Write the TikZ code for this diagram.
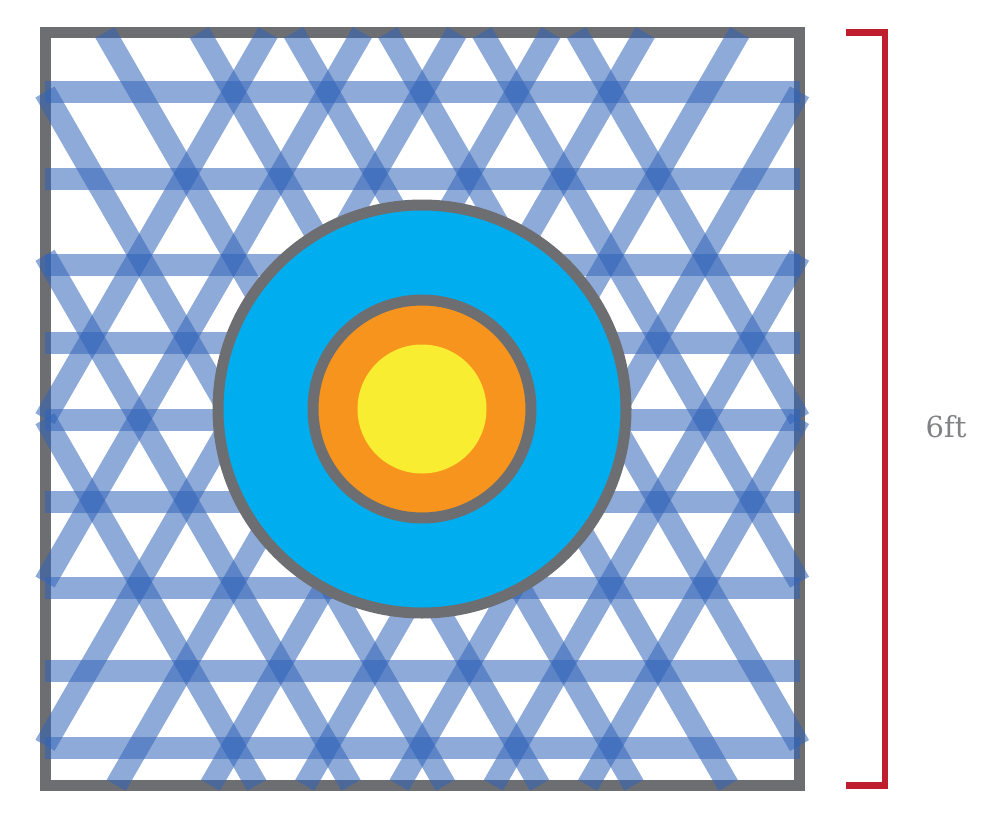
\documentclass[tikz,border=0pt]{standalone}
\usepackage{fontspec}
\usepackage{tikz}
\usetikzlibrary{positioning}

\newfontfamily\cotefont{DejaVu Serif}

\definecolor{grisbord}{RGB}{109,110,113}
\definecolor{bleubande}{RGB}{50,100,185}
\definecolor{cyanext}{RGB}{0,174,239}
\definecolor{orangemil}{RGB}{247,148,29}
\definecolor{jaunecoeur}{RGB}{249,237,50}
\definecolor{rougecote}{RGB}{190,30,45}
\definecolor{gristexte}{RGB}{128,130,133}

\begin{document}
\begin{tikzpicture}[
    x=1pt,
    y=-1pt,
    cadre/.style={
        draw=grisbord,
        line width=11pt
    },
    bande/.style={
        draw=bleubande,
        draw opacity=0.55,
        line width=22pt
    },
    anneau/.style={
        draw=grisbord,
        line width=11pt
    },
    cote/.style={
        draw=rougecote,
        line width=6.5pt
    },
    mesure/.style={
        text=gristexte,
        inner sep=0pt,
        font=\cotefont\fontsize{29}{35}\selectfont
    }
]
\useasboundingbox (0,0) rectangle (1000,819);

% Frame
\draw[cadre] (45,32.5) rectangle (799.5,785.3);

% Horizontal strips
\draw[bande] (45,92) -- (799.5,92);
\draw[bande] (45,179) -- (799.5,179);
\draw[bande] (45,265) -- (799.5,265);
\draw[bande] (45,343) -- (799.5,343);
\draw[bande] (45,420) -- (799.5,420);
\draw[bande] (45,502) -- (799.5,502);
\draw[bande] (45,588) -- (799.5,588);
\draw[bande] (45,671) -- (799.5,671);
\draw[bande] (45,748) -- (799.5,748);

% Strips going down to the right
\draw[bande] (45,418.7) -- (256.7,785.3);
\draw[bande] (45,255.3) -- (351.0,785.3);
\draw[bande] (45,92) -- (445.3,785.3);
\draw[bande] (104.9,32.5) -- (539.6,785.3);
\draw[bande] (199.3,32.5) -- (633.9,785.3);
\draw[bande] (293.6,32.5) -- (728.2,785.3);
\draw[bande] (387.8,32.5) -- (799.5,745.5);
\draw[bande] (482.2,32.5) -- (799.5,582.2);
\draw[bande] (576.5,32.5) -- (799.5,418.8);

% Strips going down to the left
\draw[bande] (268.0,32.5) -- (45,418.7);
\draw[bande] (362.3,32.5) -- (45,582.0);
\draw[bande] (456.6,32.5) -- (45,745.3);
\draw[bande] (550.9,32.5) -- (116.2,785.3);
\draw[bande] (645.2,32.5) -- (210.5,785.3);
\draw[bande] (739.5,32.5) -- (304.8,785.3);
\draw[bande] (799.5,91.8) -- (399.1,785.3);
\draw[bande] (799.5,255.2) -- (493.4,785.3);
\draw[bande] (799.5,418.5) -- (587.7,785.3);

% Rings
\draw[anneau, fill=cyanext] (422,409) circle (204pt);
\draw[anneau, fill=orangemil] (422,409) circle (109pt);
\fill[jaunecoeur] (422,409) circle (64.5pt);

% Dimension
\draw[cote] (846,32.3) -- (885,32.3) -- (885,785.5) -- (846,785.5);
\node[mesure] (hauteur) at (946,427) {6ft};

\end{tikzpicture}
\end{document}
